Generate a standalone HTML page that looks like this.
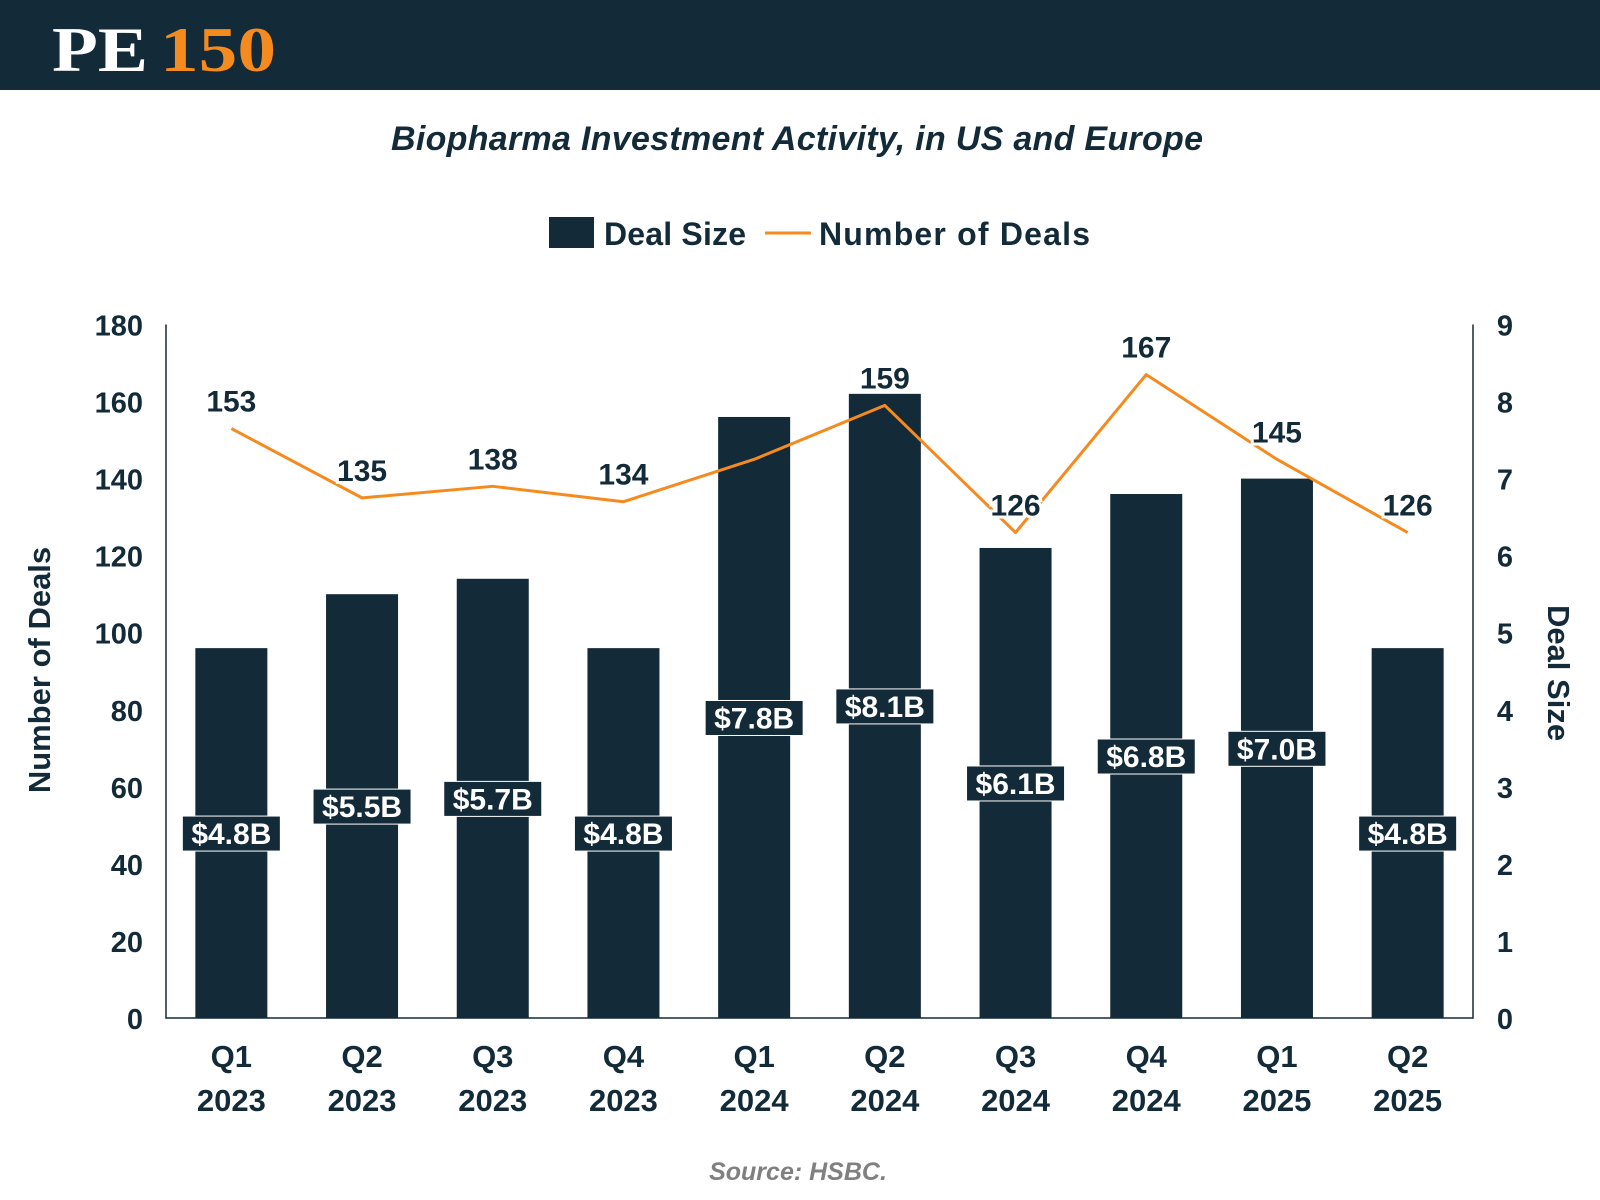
<!DOCTYPE html>
<html><head><meta charset="utf-8">
<style>
body{margin:0;width:1600px;height:1200px;background:#fff;overflow:hidden;font-family:"Liberation Sans",sans-serif;}
svg{display:block}
</style></head>
<body>
<svg id="chart" width="1600" height="1200">
  <rect x="0" y="0" width="1600" height="90" fill="#132a38"/>
  <text x="52" y="71" font-family="Liberation Serif" font-weight="bold" font-size="64" fill="#fff" textLength="96" lengthAdjust="spacingAndGlyphs">PE</text>
  <text x="160" y="71" font-family="Liberation Serif" font-weight="bold" font-size="64" fill="#f58a1f" textLength="116" lengthAdjust="spacingAndGlyphs">150</text>
  <text x="797" y="150" text-anchor="middle" font-style="italic" font-weight="bold" font-size="34" fill="#132a38" textLength="812" lengthAdjust="spacing">Biopharma Investment Activity, in US and Europe</text>
  <g>
    <rect x="549" y="217" width="45" height="31" fill="#132a38"/>
    <text x="604" y="245" font-weight="bold" font-size="32" fill="#132a38" textLength="142" lengthAdjust="spacing">Deal Size</text>
    <line x1="765" y1="233" x2="811" y2="233" stroke="#f58a1f" stroke-width="3"/>
    <text x="819" y="245" font-weight="bold" font-size="32" fill="#132a38" textLength="271" lengthAdjust="spacing">Number of Deals</text>
  </g>
  <text transform="translate(50,670) rotate(-90)" text-anchor="middle" font-weight="bold" font-size="31" fill="#132a38">Number of Deals</text>
  <text transform="translate(1548,673) rotate(90)" text-anchor="middle" font-weight="bold" font-size="31" fill="#132a38">Deal Size</text>
  <text x="798" y="1180" text-anchor="middle" font-style="italic" font-weight="bold" font-size="25" fill="#808080">Source: HSBC.</text>
  <g id="plot"></g>
</svg>
<script>
const categories=["Q1|2023","Q2|2023","Q3|2023","Q4|2023","Q1|2024","Q2|2024","Q3|2024","Q4|2024","Q1|2025","Q2|2025"];
const dealSize=[4.8,5.5,5.7,4.8,7.8,8.1,6.1,6.8,7.0,4.8];
const dealCount=[153,135,138,134,145,159,126,167,145,126];
const countLabels=["153","135","138","134","","159","126","167","145","126"];
const leftTicks=[0,20,40,60,80,100,120,140,160,180];
const rightTicks=[0,1,2,3,4,5,6,7,8,9];

const NS="http://www.w3.org/2000/svg";
const plot=document.getElementById('plot');
const X0=166,X1=1473,Y0=1018,Y1=324.5;
const yL=v=>Y0-(v/180)*(Y0-Y1);
const yR=v=>Y0-(v/9)*(Y0-Y1);
const step=(X1-X0)/categories.length;
const xC=i=>X0+step*(i+0.5);
function mk(tag,attrs,parent){const e=document.createElementNS(NS,tag);for(const k in attrs)e.setAttribute(k,attrs[k]);(parent||plot).appendChild(e);return e;}

dealSize.forEach((v,i)=>{
  const r=mk('rect',{x:xC(i)-36,y:yR(v),width:72,height:Y0-yR(v),fill:'#132a38'});
  
  
});
const ax=mk('path',{d:`M${X0} ${Y1}V${Y0}H${X1}V${Y1}`,fill:'none',stroke:'#132a38','stroke-width':1.5});


leftTicks.forEach(t=>{
  const e=mk('text',{x:143,y:yL(t)+11,'text-anchor':'end','font-weight':'bold','font-size':29,fill:'#132a38'});
  e.textContent=t;
  
  
});
rightTicks.forEach(t=>{
  const e=mk('text',{x:1505,y:yR(t)+11,'text-anchor':'middle','font-weight':'bold','font-size':29,fill:'#132a38'});
  e.textContent=t;
  
  
});
categories.forEach((c,i)=>{
  const [q,y]=c.split('|');
  const e=mk('text',{x:xC(i),y:1067,'text-anchor':'middle','font-weight':'bold','font-size':31,fill:'#132a38'});
  e.textContent=q;
  
  
  const e2=mk('text',{x:xC(i),y:1111,'text-anchor':'middle','font-weight':'bold','font-size':31,fill:'#132a38'});
  e2.textContent=y;
  
  
});
const pts=dealCount.map((v,i)=>xC(i)+','+yL(v)).join(' ');
const pl=mk('polyline',{points:pts,fill:'none',stroke:'#f58a1f','stroke-width':3,'stroke-linejoin':'round'});


dealCount.forEach((v,i)=>{
  if(!countLabels[i])return;
  const e=mk('text',{x:xC(i),y:yL(v)-17,'text-anchor':'middle','font-weight':'bold','font-size':30,fill:'#132a38',stroke:'#fff','stroke-width':6,'paint-order':'stroke'});
  e.textContent=countLabels[i];
  
  
});
dealSize.forEach((v,i)=>{
  const cy=yR(v/2);
  const b=mk('rect',{x:xC(i)-49,y:cy-17,width:98,height:35,fill:'#132a38',stroke:'#fff','stroke-width':1});
  
  
  const e=mk('text',{x:xC(i),y:cy+11,'text-anchor':'middle','font-weight':'bold','font-size':30,fill:'#fff'});
  e.textContent='$'+v.toFixed(1)+'B';
  
  
});
</script>
</body></html>
